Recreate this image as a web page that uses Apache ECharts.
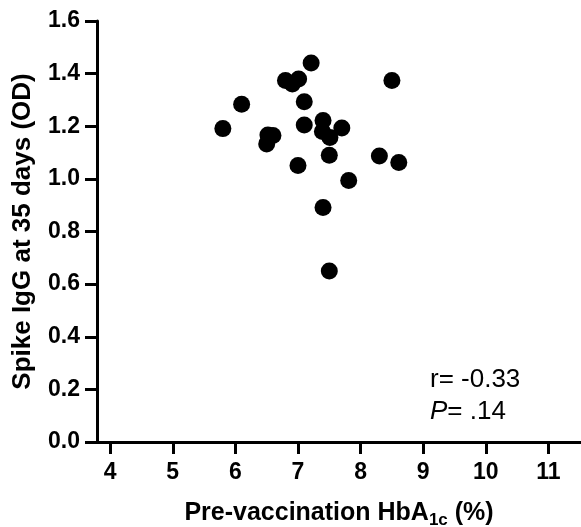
<!DOCTYPE html>
<html>
<head>
<meta charset="utf-8">
<script src="https://cdn.jsdelivr.net/npm/echarts@6/dist/echarts.min.js"></script>
<style>html,body{margin:0;padding:0;background:#fff;}#c{width:581px;height:527px;}</style>
</head>
<body>
<div id="c"></div>
<script>
// Data
const hba1c = [7.21, 8.50, 6.80, 6.91, 7.01, 6.10, 7.10, 5.80, 7.10, 7.40, 7.70, 7.39, 7.51, 6.52, 6.60, 6.50, 7.50, 7.00, 8.30, 8.61, 7.81, 7.40, 7.50];
const spikeIgG = [1.44, 1.374, 1.374, 1.361, 1.380, 1.284, 1.293, 1.191, 1.205, 1.222, 1.193, 1.180, 1.157, 1.167, 1.165, 1.133, 1.090, 1.051, 1.087, 1.062, 0.994, 0.891, 0.650];
const xTicks = [4, 5, 6, 7, 8, 9, 10, 11];
const yTicks = [0, 0.2, 0.4, 0.6, 0.8, 1.0, 1.2, 1.4, 1.6];
const statLines = ['r= -0.33', 'P= .14'];

const points = hba1c.map((x, i) => [x, spikeIgG[i]]);
const font = '"Liberation Sans", Arial, sans-serif';

const chart = echarts.init(document.getElementById('c'), null, {renderer: 'canvas'});
chart.setOption({
  backgroundColor: '#fff',
  animation: false,
  grid: {left: 97, top: 21, right: 0, bottom: 85, containLabel: false, outerBoundsMode: 'none'},
  xAxis: {
    type: 'value', min: 3.79, max: 11.52,
    name: 'Pre-vaccination HbA{sub|1c} (%)',
    nameLocation: 'middle', nameGap: 56,
    nameTextStyle: {
      fontFamily: font, fontWeight: 'bold', fontSize: 25, color: '#000',
      rich: {sub: {fontFamily: font, fontWeight: 'bold', fontSize: 17, color: '#000', padding: [14, 0, 0, 0]}}
    },
    splitLine: {show: false},
    axisLine: {show: true, lineStyle: {color: '#000', width: 3}},
    axisTick: {show: true, length: 12, lineStyle: {color: '#000', width: 3}, customValues: xTicks},
    axisLabel: {fontFamily: font, fontWeight: 'bold', fontSize: 23, color: '#000', margin: 19, customValues: xTicks}
  },
  yAxis: {
    type: 'value', min: 0, max: 1.6,
    name: 'Spike IgG at 35 days (OD)',
    nameLocation: 'middle', nameGap: 61, nameRotate: 90,
    nameTextStyle: {fontFamily: font, fontWeight: 'bold', fontSize: 26, color: '#000'},
    splitLine: {show: false},
    axisLine: {show: true, lineStyle: {color: '#000', width: 3}},
    axisTick: {show: true, length: 12, lineStyle: {color: '#000', width: 3}, customValues: yTicks},
    axisLabel: {fontFamily: font, fontWeight: 'bold', fontSize: 23, color: '#000', margin: 17,
      customValues: yTicks, formatter: v => v.toFixed(1)}
  },
  graphic: [{
    type: 'text', left: 430, top: 364,
    style: {
      text: statLines[0] + '\n{i|P}' + statLines[1].slice(1),
      font: '26px ' + font, fill: '#000', lineHeight: 32,
      rich: {i: {fontStyle: 'italic', fontFamily: font, fontSize: 26, fill: '#000'}}
    }
  }],
  series: [{
    type: 'scatter', data: points, symbol: 'circle', symbolSize: 17,
    itemStyle: {color: '#000', opacity: 1}
  }]
});
</script>
</body>
</html>
